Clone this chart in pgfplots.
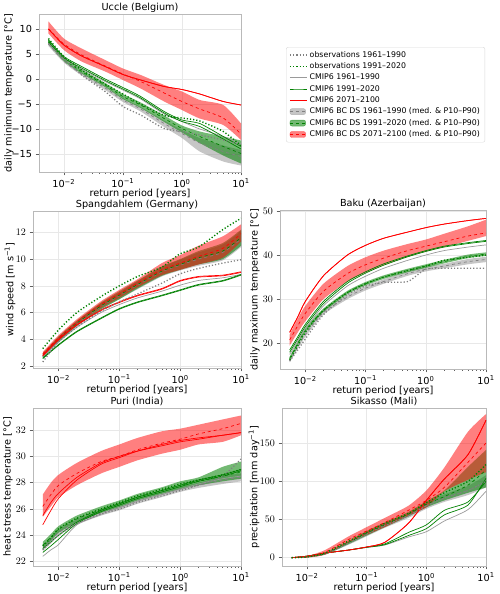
\documentclass[border=0pt]{standalone}
\usepackage{fontspec}
\setmainfont{DejaVu Sans}
\usepackage{pgfplots}
\pgfplotsset{compat=1.18}
\usepackage{pgfplotstable}
\usepgfplotslibrary{fillbetween}

\definecolor{cgray}{HTML}{808080}
\definecolor{cgreen}{HTML}{008000}
\definecolor{cred}{HTML}{FF0000}
\newcommand{\fs}{\fontsize{9.7}{11}\selectfont}

\pgfplotstableread{
x      grl   grm   gru   gnl   gnm   gnu   rdl   rdm   rdu   obg   obn   cmg   cmn   cmn2  cmr  cmr2
0.0055 6.6   7.0   7.4   7.0   7.5   8.0   9.1   10.0  11.5  7.1   8.1   7.2   7.8   7.4   10.0 10.0
0.01   3.3   3.6   3.9   3.6   4.0   4.4   5.8   7.0   8.1   4.1   4.5   4.0   4.5   4.2   6.8  6.8
0.02   0.7   1.0   1.3   1.1   1.5   1.9   3.5   4.8   6.1   0.8   1.8   2.0   2.5   2.2   4.6  4.6
0.05  -2.2  -1.8  -1.4  -1.6  -1.2  -0.8   1.5   2.6   3.8  -2.5  -1.0  -0.5   0.0  -0.3   2.5  2.5
0.1   -4.6  -4.2  -3.8  -4.0  -3.5  -3.0  -0.2   1.0   2.1  -5.5  -3.0  -2.2  -1.7  -2.0   0.9  0.9
0.2   -6.5  -6.0  -5.6  -5.8  -5.2  -4.7  -1.9  -0.5   0.8  -7.2  -5.0  -4.0  -3.5  -3.8  -0.2 -0.2
0.5   -9.6  -8.9  -8.3  -8.6  -7.9  -7.3  -4.5  -2.8  -1.2  -9.9  -7.3  -7.0  -6.5  -6.8  -1.5 -1.5
1    -11.8 -10.9 -10.2 -10.7  -9.9  -9.3  -6.2  -4.5  -2.5 -10.5  -7.8  -8.5  -8.2  -8.5  -2.1 -2.1
2    -14.5 -12.8 -11.8 -12.8 -11.5 -10.5  -7.9  -6.0  -4.2 -11.2  -8.4 -10.0  -8.9  -9.5  -3.0 -3.0
5    -16.5 -14.5 -13.3 -15.3 -13.5 -11.5  -9.2  -7.8  -5.2 -12.2 -10.5 -11.5 -11.5 -12.0  -4.5 -4.5
10   -17.3 -15.5 -14.2 -16.9 -14.9 -12.3 -12.2 -11.0  -8.9 -13.2 -13.3 -13.0 -13.5 -14.0  -5.2 -5.2
}\tabA

\pgfplotstableread{
x      grl  grm  gru  gnl  gnm  gnu  rdl  rdm  rdu  obg  obn  cmg  cmn  cmn2 cmr  cmr2
0.0055 2.55 2.7  2.85 2.65 2.8  2.95 2.75 2.9  3.05 2.3  3.3  2.7  2.6  2.55 2.8  2.75
0.01   3.75 3.95 4.15 3.8  4.0  4.2  3.9  4.1  4.3  3.8  4.7  3.8  3.6  3.55 4.0  3.95
0.02   4.95 5.15 5.35 5.0  5.2  5.4  5.1  5.3  5.5  4.9  6.0  4.9  4.6  4.55 5.1  5.05
0.05   6.2  6.45 6.7  6.25 6.5  6.75 6.35 6.6  6.85 6.1  7.2  6.0  5.6  5.55 6.2  6.15
0.1    7.0  7.25 7.5  7.0  7.3  7.6  7.1  7.4  7.7  6.8  8.0  6.6  6.3  6.25 6.8  6.75
0.2    7.75 8.05 8.35 7.8  8.1  8.4  7.9  8.2  8.5  7.4  8.7  7.1  6.8  6.75 7.3  7.25
0.5    8.7  9.05 9.4  8.75 9.1  9.45 8.8  9.2  9.7  8.2  9.4  7.6  7.3  7.25 7.8  7.75
1      9.15 9.55 9.95 9.2  9.6  10.0 9.2  9.7  10.3 8.9  10.4 8.05 7.7  7.65 8.4  8.35
2      9.5  10.0 10.5 9.6  10.1 10.6 9.6  10.2 11.0 9.3  10.9 8.4  8.1  8.05 8.7  8.65
5      9.9  10.5 11.1 10.0 10.6 11.2 10.1 10.8 11.7 9.7  12.2 8.6  8.4  8.35 8.8  8.75
10     10.9 11.5 12.1 11.0 11.6 12.2 11.3 11.9 12.6 9.95 13.05 8.85 8.85 8.8 9.05 9.0
}\tabB

\pgfplotstableread{
x      grl  grm  gru  gnl  gnm  gnu  rdl  rdm  rdu  obg  obn  cmg  cmn  cmn2 cmr  cmr2
0.0055 15.7 16.0 16.4 16.2 16.6 17.0 19.5 20.8 22.0 16.0 16.3 17.5 18.5 18.0 22.5 22.5
0.0075 18.8 19.2 19.6 19.6 20.0 20.4 22.5 24.0 25.6 18.5 19.5 20.5 21.5 21.0 26.0 26.0
0.01   21.5 22.0 22.5 22.5 23.0 23.5 25.0 26.8 28.5 21.0 22.5 23.3 24.3 23.8 29.5 29.5
0.02   26.5 27.0 27.5 27.1 27.5 27.9 30.0 31.8 33.5 26.5 27.5 28.5 29.5 29.0 35.3 35.3
0.05   30.0 30.5 31.0 31.1 31.5 31.9 34.0 35.8 37.5 31.0 31.5 33.0 34.0 33.6 40.0 40.0
0.1    32.0 32.5 33.0 33.1 33.5 33.9 36.0 37.8 39.5 33.0 33.5 35.2 36.2 35.9 42.2 42.2
0.2    33.5 34.0 34.5 34.6 35.0 35.4 37.7 39.3 41.0 33.8 35.0 37.0 38.0 37.7 43.8 43.8
0.5    35.3 35.8 36.3 36.1 36.5 36.9 39.6 41.0 42.5 34.0 36.5 38.8 39.8 39.6 45.2 45.2
1      36.3 36.8 37.3 37.1 37.5 37.9 40.8 42.0 43.5 36.8 37.5 40.0 41.0 40.8 46.2 46.2
2      37.0 37.5 38.0 38.1 38.5 38.9 41.8 43.0 44.8 37.0 38.8 41.0 42.0 41.8 47.0 47.0
5      37.9 38.5 39.1 39.3 39.7 40.1 43.2 44.3 46.5 37.0 39.5 41.8 42.8 42.6 47.8 47.8
10     38.4 39.0 39.6 39.8 40.2 40.6 44.3 45.0 48.0 37.0 40.0 42.3 43.3 43.1 48.3 48.3
}\tabC

\pgfplotstableread{
x      grl  grm  gru  gnl  gnm   gnu   rdl  rdm  rdu  obg  obn  cmg  cmn  cmn2 cmr  cmr2
0.0055 22.8 23.0 23.2 23.0 23.25 23.5  25.4 26.2 27.1 22.9 23.2 22.4 23.0 22.7 25.5 24.8
0.0075 23.4 23.6 23.8 23.6 23.85 24.1  26.2 27.1 28.0 23.5 23.8 22.9 23.5 23.2 26.5 25.9
0.01   24.0 24.2 24.4 24.2 24.45 24.7  26.9 27.8 28.6 24.0 24.5 23.3 24.0 23.7 27.2 26.8
0.02   24.8 25.0 25.2 25.0 25.25 25.5  27.8 28.7 29.5 24.9 25.3 24.8 25.0 24.9 28.4 28.2
0.05   25.5 25.7 25.9 25.7 25.95 26.2  28.7 29.6 30.4 25.6 26.0 25.6 25.9 25.8 29.5 29.4
0.1    25.9 26.1 26.3 26.15 26.4 26.65 29.2 30.0 30.9 26.0 26.5 26.1 26.4 26.3 30.0 29.9
0.2    26.4 26.6 26.8 26.65 26.9 27.15 29.7 30.5 31.4 26.5 27.0 26.6 26.9 26.8 30.4 30.4
0.5    26.9 27.1 27.3 27.15 27.4 27.65 30.2 31.0 31.9 27.0 27.5 27.1 27.4 27.3 30.8 30.9
1      27.3 27.5 27.7 27.5 27.8  28.1  30.5 31.3 32.1 27.4 27.9 27.5 27.8 27.7 31.1 31.2
2      27.6 27.8 28.0 27.8 28.1  28.4  30.9 31.7 32.4 27.8 28.2 27.9 28.2 28.1 31.3 31.4
5      27.9 28.2 28.5 28.1 28.5  29.2  31.1 32.1 32.8 28.5 28.6 28.3 28.6 28.5 31.6 31.6
10     28.1 28.4 28.7 28.3 28.8  29.6  31.6 32.5 33.1 29.8 29.0 28.5 29.0 28.9 31.8 31.8
}\tabD

\pgfplotstableread{
x      grl grm gru gnl gnm gnu rdl rdm rdu obg obn cmg  cmn cmn2 cmr cmr2
0.0055 0   0   0   0   0   0   0   0   0   0   0   0    0   0    0   0
0.01   0.5 1   1.5 0.5 1   1.5 0   1   2   1   1   2    2   2    2   2
0.02   4   5   6   4   5   6   4   7   10  5   6   6    6   6    6   6
0.05   17  19  21  18  20  22  20  24  28  19  22  10   10  10   10  10
0.1    28  31  34  29  32  35  30  35  40  31  33  13.5 14  13.5 14  14
0.2    39  42  45  40  43  46  40  46  52  42  45  16.5 18  17   20  20
0.5    52  55  58  54  57  60  55  62  68  55  58  27   33  29   45  45
1      64  68  72  66  70  74  66  75  88  68  72  34   43  38   75  75
2      73  78  83  75  80  88  87  92  118 78  85  48   62  56   103 103
5      82  88  94  85  95  119 102 125 165 88  100 63   73  69   135 135
10     92  100 108 92  115 141 112 150 188 100 122 87   100 104  180 180
}\tabE

\pgfplotsset{
  mypanel/.style={
    scale only axis, xmin=0.0038, xmax=10,
    xtick={0.01,0.1,1,10},
    xticklabels={10\textsuperscript{−2},10\textsuperscript{−1},10\textsuperscript{0},10\textsuperscript{1}},
    grid=major, major grid style={gray!18, line width=0.5pt},
    axis line style={gray!55},
    tick pos=left,
    tick align=outside, tick style={gray!75!black, line width=0.5pt},
    major tick length=3.5pt, minor tick length=2pt,
    tick label style={font=\fs}, label style={font=\fs},
    title style={font=\fs, at={(axis description cs:0.5,1)}, anchor=base, yshift=-2.5pt},
    xlabel={return period [years]},
    xlabel style={at={(axis description cs:0.5,0)}, anchor=center, yshift=-21.5pt},
    ylabel style={anchor=center},
  },
}
\tikzset{
  mylw/.style={line width=0.7pt},
  mydotg/.style={cgray, line width=1.3pt, dash pattern=on 1.2pt off 2pt},
  mydotn/.style={cgreen, line width=1.4pt, dash pattern=on 1.2pt off 2pt},
}

\newcommand{\drawpanel}[1]{%
  \addplot[name path=grl, draw=none, smooth, tension=0.4, forget plot] table[x=x,y=grl]{#1};
  \addplot[name path=gru, draw=none, smooth, tension=0.4, forget plot] table[x=x,y=gru]{#1};
  \addplot[fill=cgray, fill opacity=0.45, draw=none, forget plot] fill between[of=grl and gru];
  \addplot[name path=gnl, draw=none, smooth, tension=0.4, forget plot] table[x=x,y=gnl]{#1};
  \addplot[name path=gnu, draw=none, smooth, tension=0.4, forget plot] table[x=x,y=gnu]{#1};
  \addplot[fill=cgreen, fill opacity=0.55, draw=none, forget plot] fill between[of=gnl and gnu];
  \addplot[name path=rdl, draw=none, smooth, tension=0.4, forget plot] table[x=x,y=rdl]{#1};
  \addplot[name path=rdu, draw=none, smooth, tension=0.4, forget plot] table[x=x,y=rdu]{#1};
  \addplot[fill=cred, fill opacity=0.5, draw=none, forget plot] fill between[of=rdl and rdu];
  \addplot[cgray, dashed, mylw, smooth, tension=0.4, forget plot] table[x=x,y=grm]{#1};
  \addplot[cgreen, dashed, mylw, smooth, tension=0.4, forget plot] table[x=x,y=gnm]{#1};
  \addplot[cred, dashed, mylw, smooth, tension=0.4, forget plot] table[x=x,y=rdm]{#1};
  \addplot[cgray!80, mylw, smooth, tension=0.4, forget plot] table[x=x,y=cmg]{#1};
  \addplot[cgreen, mylw, smooth, tension=0.4, forget plot] table[x=x,y=cmn]{#1};
  \addplot[cgreen, mylw, smooth, tension=0.4, forget plot] table[x=x,y=cmn2]{#1};
  \addplot[cred, mylw, smooth, tension=0.4, forget plot] table[x=x,y=cmr]{#1};
  \addplot[cred, mylw, smooth, tension=0.4, forget plot] table[x=x,y=cmr2]{#1};
  \addplot[mydotg, smooth, tension=0.4, forget plot] table[x=x,y=obg]{#1};
  \addplot[mydotn, smooth, tension=0.4, forget plot] table[x=x,y=obn]{#1};
}

\begin{document}
\begin{tikzpicture}

% Uccle
\begin{semilogxaxis}[mypanel, at={(39pt,422pt)}, anchor=south west, width=202pt, height=158pt,
  ymin=-18.6, ymax=13, ytick={-15,-10,-5,0,5,10},
  yticklabels={−15,−10,−5,0,5,10},
  title={Uccle (Belgium)}, ylabel={daily minimum temperature [°C]},
  ylabel style={at={(axis description cs:-0.1485,0.5)}},
  legend style={at={(1.223,0.791)}, anchor=north west, font=\fontsize{7.8}{9.4}\selectfont,
    draw=gray!30, rounded corners=2pt, fill=white, row sep=0pt,
    inner xsep=3pt, inner ysep=2pt},
  legend cell align=left]
\drawpanel{\tabA}
\addlegendimage{mydotg}
\addlegendimage{mydotn}
\addlegendimage{cgray!80, mylw}
\addlegendimage{cgreen, mylw}
\addlegendimage{cred, mylw}
\addlegendimage{legend image code/.code={\fill[cgray,opacity=0.45] (0pt,-3pt) rectangle (0.55cm,3pt); \draw[cgray,dashed,line width=0.7pt] (0pt,0pt)--(0.55cm,0pt);}}
\addlegendimage{legend image code/.code={\fill[cgreen,opacity=0.55] (0pt,-3pt) rectangle (0.55cm,3pt); \draw[cgreen,dashed,line width=0.7pt] (0pt,0pt)--(0.55cm,0pt);}}
\addlegendimage{legend image code/.code={\fill[cred,opacity=0.5] (0pt,-3pt) rectangle (0.55cm,3pt); \draw[cred,dashed,line width=0.7pt] (0pt,0pt)--(0.55cm,0pt);}}
\legend{observations 1961–1990, observations 1991–2020, CMIP6 1961–1990, CMIP6 1991–2020, CMIP6 2071–2100, CMIP6 BC DS 1961–1990 (med. \& P10–P90), CMIP6 BC DS 1991–2020 (med. \& P10–P90), CMIP6 BC DS 2071–2100 (med. \& P10–P90)}
\end{semilogxaxis}

% Spangdahlem
\begin{semilogxaxis}[mypanel, at={(33pt,226pt)}, anchor=south west, width=208pt, height=157pt,
  ymin=1.85, ymax=13.6, ytick={2,4,6,8,10,12},
  title={Spangdahlem (Germany)}, ylabel={wind speed [m s\textsuperscript{−1}]},
  ylabel style={at={(axis description cs:-0.1106,0.5)}}]
\drawpanel{\tabB}
\end{semilogxaxis}

% Baku
\begin{semilogxaxis}[mypanel, at={(280pt,225pt)}, anchor=south west, width=206pt, height=159pt,
  ymin=14.2, ymax=50.2, ytick={20,30,40,50},
  title={Baku (Azerbaijan)}, ylabel={daily maximum temperature [°C]},
  ylabel style={at={(axis description cs:-0.1214,0.5)}}]
\drawpanel{\tabC}
\end{semilogxaxis}

% Puri
\begin{semilogxaxis}[mypanel, at={(33pt,28pt)}, anchor=south west, width=208pt, height=158pt,
  ymin=21.67, ymax=33.67, ytick={22,24,26,28,30,32},
  title={Puri (India)}, ylabel={heat stress temperature [°C]},
  ylabel style={at={(axis description cs:-0.1202,0.5)}}]
\drawpanel{\tabD}
\end{semilogxaxis}

% Sikasso
\begin{semilogxaxis}[mypanel, at={(282pt,28pt)}, anchor=south west, width=204pt, height=158pt,
  ymin=-10.9, ymax=196, ytick={0,50,100,150},
  title={Sikasso (Mali)}, ylabel={precipitation [mm day\textsuperscript{−1}]},
  ylabel style={at={(axis description cs:-0.1373,0.5)}}]
\drawpanel{\tabE}
\end{semilogxaxis}

\pgfresetboundingbox
\useasboundingbox (0,0) rectangle (500pt,594pt);
\end{tikzpicture}
\end{document}
